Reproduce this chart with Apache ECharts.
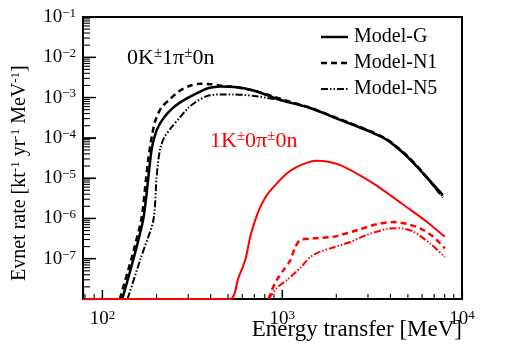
<!DOCTYPE html>
<html><head><meta charset="utf-8">
<script src="https://cdn.jsdelivr.net/npm/echarts@6/dist/echarts.min.js"></script>
<style>html,body{margin:0;padding:0;background:#fff}#c{width:525px;height:356px}</style>
</head><body><div id="c"></div>
<script>
// ---- data ----
const xMin = 78, xMax = 10000, yMin = 1e-8, yMax = 1e-1;
const legendNames = ['Model-G', 'Model-N1', 'Model-N5'];

// 0K±1π±0n channel (black)
const eG  = [129,149,169,180,184,189,201,219,244,271,308,350,390,453,560,693,822,975,1430,2100,3000,3830,5000,6000,6500,7830];
const vG  = [1e-8,1e-7,1e-6,1e-5,2.5e-5,6e-5,1.6e-4,3.1e-4,5.3e-4,7.6e-4,1.05e-3,1.4e-3,1.72e-3,1.88e-3,1.8e-3,1.5e-3,1.15e-3,8.7e-4,5.5e-4,2.8e-4,1.5e-4,8.9e-5,3.3e-5,1.4e-5,9.5e-6,3.8e-6];
const eN1 = [125,145,165,175,180,186,196,212,233,271,310,350,400,450,560,693,822,1000,1430,2100,3000,3830,5000,6000,6500,7830];
const vN1 = [1e-8,1e-7,1e-6,1e-5,3e-5,8e-5,2.5e-4,5.5e-4,8.5e-4,1.5e-3,2e-3,2.2e-3,2.15e-3,2.0e-3,1.8e-3,1.5e-3,1.2e-3,9e-4,5.6e-4,2.9e-4,1.55e-4,9.2e-5,3.5e-5,1.45e-5,9.5e-6,3.3e-6];
const eN5 = [138,163,192,200,204,210,220,239,271,300,330,383,450,535,700,826,1000,1430,2100,3000,3830,5000,6000,6500,7830];
const vN5 = [1e-8,1e-7,9e-7,1e-5,2.5e-5,5.5e-5,1e-4,1.7e-4,3.3e-4,5.5e-4,7.7e-4,1.1e-3,1.2e-3,1.2e-3,1.1e-3,9.8e-4,8.5e-4,5.5e-4,2.8e-4,1.5e-4,8.9e-5,3.4e-5,1.35e-5,9e-6,3.5e-6];

// 1K±0π±0n channel (red)
const eRG  = [78,514,570,623,664,708,755,822,934,1061,1206,1370,1525,1770,2100,2600,3210,3980,4930,6370,8020];
const vRG  = [1e-8,1e-8,3.3e-8,9.3e-8,3.5e-7,9.1e-7,1.9e-6,3.8e-6,7.4e-6,1.3e-5,1.9e-5,2.4e-5,2.7e-5,2.6e-5,2.1e-5,1.3e-5,7.4e-6,3.8e-6,1.9e-6,8.3e-7,3.5e-7];
const eRN1 = [839,877,934,1016,1107,1180,1260,1493,1929,2286,2712,3357,4150,4930,5848,6934,8020];
const vRN1 = [1e-8,1.7e-8,3e-8,5.2e-8,9e-8,1.9e-7,2.9e-7,3.2e-7,3.5e-7,4.3e-7,5.4e-7,7.2e-7,8.1e-7,7.3e-7,5.7e-7,3.5e-7,1.8e-7];
const eRN5 = [839,937,1066,1260,1431,1626,1920,2390,2960,3820,4525,5370,6640,8020];
const vRN5 = [1e-8,1.9e-8,3e-8,5.9e-8,1.1e-7,1.5e-7,1.9e-7,2.6e-7,3.9e-7,5.5e-7,5.7e-7,4.7e-7,2.4e-7,1.1e-7];

// tick values
const xMajorTicks = [100, 1000];
const xMinorTicks = [80,90,200,300,400,500,600,700,800,900,2000,3000,4000,5000,6000,7000,8000,9000];
const yMajorTicks = [1e-7,1e-6,1e-5,1e-4,1e-3,1e-2];
const yMinorTicks = [];
for (let d = -8; d <= -2; d++) for (let k = 2; k <= 9; k++) yMinorTicks.push(+(k * Math.pow(10, d)).toPrecision(3));

// ---- chart ----
const FONT = 'Liberation Serif';
const zip = (e, v) => e.map((x, i) => [x, v[i]]);
const dashN1 = [6, 4];
const dashN5 = [7, 2, 1.5, 2, 1.5, 2];
const styles = [
  { color: '#000', type: 'solid', width: 2.5 },
  { color: '#000', type: dashN1, width: 2.5 },
  { color: '#000', type: dashN5, width: 2 }
];

function lineSeries(name, e, v, color, type, width) {
  return { name, type: 'line', data: zip(e, v), symbol: 'none', smooth: 0.25,
    lineStyle: { color, width, type }, itemStyle: { color }, z: 3 };
}
function tickMarks(name, vals, axis, len, w) {
  return { name, type: 'scatter', silent: true, clip: false, z: 6,
    data: vals.map(v => axis === 'x' ? [v, yMin] : [xMin, v]),
    symbol: 'rect',
    symbolSize: axis === 'x' ? [w, len] : [len, w],
    symbolOffset: axis === 'x' ? [0, -len / 2] : [len / 2, 0],
    itemStyle: { color: '#000', opacity: 1 },
    emphasis: { disabled: true } };
}
function expLabel(v) {
  const lg = Math.log10(v), ex = Math.round(lg);
  if (Math.abs(lg - ex) > 1e-6) return '';
  return '{b|10}{s|' + (ex < 0 ? '\u2212' : '') + Math.abs(ex) + '}';
}
const tickRich = {
  b: { fontSize: 19, fontFamily: FONT, color: '#000', lineHeight: 20 },
  s: { fontSize: 13, fontFamily: FONT, color: '#000', verticalAlign: 'top' }
};
const frameAxis = (pos) => ({ type: 'log', min: pos === 'top' ? xMin : yMin, max: pos === 'top' ? xMax : yMax, position: pos,
  axisLine: { show: true, lineStyle: { color: '#000', width: 2 } }, axisTick: { show: false }, axisLabel: { show: false }, splitLine: { show: false } });

// legend drawn as graphic elements (sample line + text per model)
const legendGraphics = [];
legendNames.forEach((nm, i) => {
  const y = 37 + i * 26, st = styles[i];
  legendGraphics.push({ type: 'line', shape: { x1: 321, y1: y, x2: 348, y2: y },
    style: { stroke: st.color, lineWidth: st.width, lineDash: Array.isArray(st.type) ? st.type : null } });
  legendGraphics.push({ type: 'text', x: 354, y: y, style: { text: nm, fontFamily: FONT, fontSize: 20, fill: '#000', align: 'left', verticalAlign: 'middle' } });
});

const chart = echarts.init(document.getElementById('c'));
chart.setOption({
  animation: false,
  grid: { left: 83, right: 63, top: 17, bottom: 57 },
  xAxis: [{
    type: 'log', min: xMin, max: xMax,
    axisLine: { show: true, lineStyle: { color: '#000', width: 2 } },
    axisTick: { show: true, inside: true, length: 9, lineStyle: { color: '#000', width: 1.2 } },
    splitLine: { show: false },
    axisLabel: { margin: 10, formatter: expLabel, rich: tickRich }
  }, frameAxis('top')],
  yAxis: [{
    type: 'log', min: yMin, max: yMax,
    axisLine: { show: true, lineStyle: { color: '#000', width: 2 } },
    axisTick: { show: true, inside: true, length: 13, lineStyle: { color: '#000', width: 1.2 } },
    splitLine: { show: false },
    axisLabel: { margin: 7, formatter: v => (Math.abs(Math.log10(v) + 8) < 1e-6 ? '' : expLabel(v)), rich: tickRich }
  }, frameAxis('right')],
  graphic: legendGraphics.concat([
    { type: 'text', x: 462, y: 330, style: {
        text: 'Energy transfer [MeV]', fontFamily: FONT, fontSize: 23, fill: '#000', align: 'right', verticalAlign: 'middle' } },
    { type: 'text', x: 20, y: 281, rotation: Math.PI / 2, style: {
        text: '{t|Evnet rate [kt}{s|-1}{t| yr}{s|-1}{t| MeV}{s|-1}{t|]}',
        rich: { t: { fontFamily: FONT, fontSize: 20, fill: '#000', lineHeight: 22 },
                s: { fontFamily: FONT, fontSize: 13, fill: '#000', verticalAlign: 'top' } },
        align: 'left', verticalAlign: 'middle' } },
    { type: 'text', x: 127, y: 58, style: {
        text: '{n|0K}{s|\u00b1}{n|1\u03c0}{s|\u00b1}{n|0n}',
        rich: { n: { fontFamily: FONT, fontSize: 22, fill: '#000', lineHeight: 24 },
                s: { fontFamily: FONT, fontSize: 15, fill: '#000', verticalAlign: 'top' } },
        align: 'left', verticalAlign: 'middle' } },
    { type: 'text', x: 210, y: 141, style: {
        text: '{n|1K}{s|\u00b1}{n|0\u03c0}{s|\u00b1}{n|0n}',
        rich: { n: { fontFamily: FONT, fontSize: 22, fill: '#ff0000', lineHeight: 24 },
                s: { fontFamily: FONT, fontSize: 15, fill: '#ff0000', verticalAlign: 'top' } },
        align: 'left', verticalAlign: 'middle' } }
  ]),
  series: [
    lineSeries('Model-G', eG, vG, styles[0].color, styles[0].type, styles[0].width),
    lineSeries('Model-N1', eN1, vN1, styles[1].color, styles[1].type, styles[1].width),
    lineSeries('Model-N5', eN5, vN5, styles[2].color, styles[2].type, styles[2].width),
    lineSeries('1K Model-G', eRG, vRG, '#ff0000', 'solid', 2),
    lineSeries('1K Model-N1', eRN1, vRN1, '#ff0000', dashN1, 2.5),
    lineSeries('1K Model-N5', eRN5, vRN5, '#ff0000', dashN5, 2),
    tickMarks('xmajor', xMajorTicks, 'x', 9, 1.3),
    tickMarks('xminor', xMinorTicks, 'x', 5, 1.1),
    tickMarks('ymajor', yMajorTicks, 'y', 13, 1.3),
    tickMarks('yminor', yMinorTicks, 'y', 7, 1.1)
  ]
});
</script></body></html>
